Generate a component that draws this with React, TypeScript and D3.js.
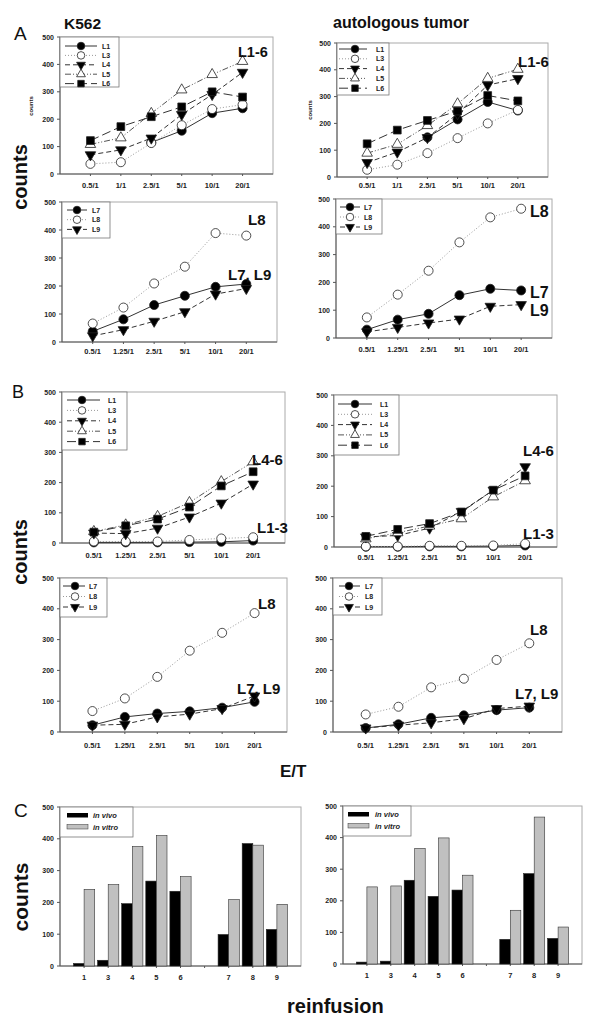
import React from "react";
import * as d3 from "d3";

// ---------- DATA ----------
const etLabelsA = ["0.5/1", "1/1", "2.5/1", "5/1", "10/1", "20/1"];
const etLabels = ["0.5/1", "1.25/1", "2.5/1", "5/1", "10/1", "20/1"];
const yTicks = [0, 100, 200, 300, 400, 500];

// A, K562, L1-6
const aK_L1 = [null, null, 115, 158, 222, 240];
const aK_L3 = [37, 43, 113, 178, 237, 253];
const aK_L4 = [70, 88, 131, 217, 290, 371];
const aK_L5 = [108, 132, 221, 307, 363, 411];
const aK_L6 = [122, 173, 209, 245, 300, 281];
// A, autologous, L1-6
const aT_L1 = [null, null, 148, 215, 280, 248];
const aT_L3 = [27, 46, 89, 145, 200, 250];
const aT_L4 = [54, 93, 147, 236, 343, 367];
const aT_L5 = [89, 122, 192, 273, 368, 402];
const aT_L6 = [124, 175, 211, 246, 304, 284];
// A, K562, L7-9
const aK_L7 = [38, 81, 132, 165, 197, 207];
const aK_L8 = [66, 123, 209, 269, 389, 380];
const aK_L9 = [22, 44, 74, 108, 171, 191];
// A, autologous, L7-9
const aT_L7 = [30, 66, 87, 154, 177, 171];
const aT_L8 = [74, 156, 242, 344, 434, 465];
const aT_L9 = [22, 38, 54, 68, 114, 120];
// B, K562, L1-6
const bK_L1 = [2, 2, 2, 3, 4, 8];
const bK_L3 = [5, 5, 5, 10, 15, 19];
const bK_L4 = [33, 31, 49, 86, 132, 195];
const bK_L5 = [38, 60, 88, 134, 203, 269];
const bK_L6 = [36, 57, 79, 119, 189, 236];
// B, autologous, L1-6
const bT_L1 = [1, 1, 2, 2, 3, 5];
const bT_L3 = [2, 2, 4, 4, 5, 11];
const bT_L4 = [33, 38, 62, 117, 187, 264];
const bT_L5 = [27, 47, 69, 93, 165, 218];
const bT_L6 = [35, 58, 77, 115, 187, 234];
// B, K562, L7-9
const bK_L7 = [22, 49, 60, 67, 79, 98];
const bK_L8 = [68, 109, 179, 264, 322, 386];
const bK_L9 = [22, 25, 49, 58, 76, 117];
// B, autologous, L7-9
const bT_L7 = [13, 25, 46, 54, 71, 79];
const bT_L8 = [57, 82, 145, 173, 234, 288];
const bT_L9 = [13, 22, 30, 43, 76, 84];

// C
const reinfusions = ["1", "3", "4", "5", "6", "", "7", "8", "9"];
const cK_inVivo = [8, 18, 196, 267, 235, null, 99, 385, 115];
const cK_inVitro = [241, 256, 376, 410, 281, null, 209, 380, 194];
const cT_inVivo = [6, 9, 265, 214, 234, null, 78, 286, 81];
const cT_inVitro = [244, 247, 366, 399, 281, null, 170, 465, 117];

// ---------- STYLES ----------
const FONT = "'Liberation Sans', Arial, Helvetica, sans-serif";
type Style = { marker: string; fill: string; dash: string; stroke: string };
const STYLES: Record<string, Style> = {
  L1: { marker: "circle", fill: "#000", dash: "", stroke: "#333" },
  L3: { marker: "circle", fill: "#fff", dash: "1,2", stroke: "#999" },
  L4: { marker: "tdown", fill: "#000", dash: "5,3", stroke: "#333" },
  L5: { marker: "tup", fill: "#fff", dash: "6,2,1,2,1,2", stroke: "#555" },
  L6: { marker: "square", fill: "#000", dash: "9,4", stroke: "#333" },
  L7: { marker: "circle", fill: "#000", dash: "", stroke: "#333" },
  L8: { marker: "circle", fill: "#fff", dash: "1,2", stroke: "#999" },
  L9: { marker: "tdown", fill: "#000", dash: "5,3", stroke: "#333" },
};

function markerPath(kind: string, scale: number) {
  if (kind === "circle") return d3.symbol(d3.symbolCircle, 64 * scale)()!;
  if (kind === "square") return d3.symbol(d3.symbolSquare, 60 * scale)()!;
  return d3.symbol(d3.symbolTriangle, 48 * scale)()!;
}

function Marker({ kind, fill, x, y, scale = 1 }: any) {
  const rot = kind === "tdown" ? " rotate(180)" : "";
  return (
    <path
      d={markerPath(kind, scale)}
      transform={`translate(${x},${y})${rot}`}
      fill={fill}
      stroke="#222"
      strokeWidth={0.8}
    />
  );
}

type Series = { name: string; values: (number | null)[] };
type Leg = { w: number; h: number; r0: number; dy: number; l0: number; l1: number; m: number; t: number };
type Ann = { text: string; x: number; y: number; size: number };

function LinePanel({ x0, x1, y0, y1, labelY, cats, series, leg, ann }: {
  x0: number; x1: number; y0: number; y1: number; labelY: number; cats: string[];
  series: Series[]; leg: Leg; ann: Ann[];
}) {
  const x = d3.scalePoint<string>().domain(cats).range([x0, x1]).padding(1);
  const y = d3.scaleLinear().domain([0, 500]).range([y1, y0]);
  return (
    <g>
      <rect x={x0} y={y0} width={x1 - x0} height={y1 - y0} fill="none" stroke="#aaa" strokeWidth={1} />
      <line x1={x0} x2={x0} y1={y0} y2={y1} stroke="#555" />
      <line x1={x0} x2={x1} y1={y1} y2={y1} stroke="#555" />
      {yTicks.map((t) => (
        <g key={t}>
          <line x1={x0 - 3} x2={x0} y1={y(t)} y2={y(t)} stroke="#555" />
          <text x={x0 - 6} y={y(t) + 2.5} fontSize={7} fontWeight="bold" textAnchor="end" fill="#222" fontFamily={FONT}>{t}</text>
        </g>
      ))}
      {cats.map((c) => (
        <g key={c}>
          <line x1={x(c)!} x2={x(c)!} y1={y1} y2={y1 + 2} stroke="#555" />
          <text x={x(c)!} y={labelY} fontSize={7.5} fontWeight="bold" textAnchor="middle" fill="#222" fontFamily={FONT}>{c}</text>
        </g>
      ))}
      {series.map((s) => {
        const st = STYLES[s.name];
        const line = d3.line<number | null>()
          .defined((v) => v !== null)
          .x((_, i) => x(cats[i])!)
          .y((v) => y(v as number));
        return (
          <path key={s.name + "l"} d={line(s.values)!} fill="none" stroke={st.stroke} strokeWidth={1} strokeDasharray={st.dash} />
        );
      })}
      {series.map((s) => {
        const st = STYLES[s.name];
        return (
          <g key={s.name + "m"}>
            {s.values.map((v, i) => v === null ? null : (
              <Marker key={i} kind={st.marker} fill={st.fill} x={x(cats[i])!} y={y(v)} />
            ))}
          </g>
        );
      })}
      <rect x={x0} y={y0} width={leg.w} height={leg.h} fill="#fff" stroke="#777" strokeWidth={0.8} />
      {series.map((s, i) => {
        const st = STYLES[s.name];
        const ry = y0 + leg.r0 + i * leg.dy;
        return (
          <g key={s.name + "g"}>
            <line x1={x0 + leg.l0} x2={x0 + leg.l1} y1={ry} y2={ry} stroke={st.stroke} strokeWidth={1} strokeDasharray={st.dash} />
            <Marker kind={st.marker} fill={st.fill} x={x0 + leg.m} y={ry} scale={0.7} />
            <text x={x0 + leg.t} y={ry + 2.5} fontSize={7} fontWeight="bold" fill="#222" fontFamily={FONT}>{s.name}</text>
          </g>
        );
      })}
      {ann.map((a) => (
        <text key={a.text + a.y} x={a.x} y={a.y} fontSize={a.size} fontWeight="bold" fill="#111" fontFamily={FONT}>{a.text}</text>
      ))}
    </g>
  );
}

function BarPanel({ x0, x1, y0, y1, labelY, vivo, vitro, legX }: any) {
  const x = d3.scalePoint<string>().domain(reinfusions.map((r, i) => r + "#" + i)).range([x0, x1]).padding(1);
  const y = d3.scaleLinear().domain([0, 500]).range([y1, y0]);
  const bw = x.step() * 0.44;
  const keys = reinfusions.map((r, i) => r + "#" + i);
  return (
    <g>
      <rect x={x0} y={y0} width={x1 - x0} height={y1 - y0} fill="none" stroke="#aaa" />
      <line x1={x0} x2={x0} y1={y0} y2={y1} stroke="#555" />
      <line x1={x0} x2={x1} y1={y1} y2={y1} stroke="#555" />
      {yTicks.map((t) => (
        <g key={t}>
          <line x1={x0 - 3} x2={x0} y1={y(t)} y2={y(t)} stroke="#555" />
          <text x={x0 - 6} y={y(t) + 2.5} fontSize={7} fontWeight="bold" textAnchor="end" fill="#222" fontFamily={FONT}>{t}</text>
        </g>
      ))}
      {keys.map((k, i) => (
        <g key={k}>
          <line x1={x(k)!} x2={x(k)!} y1={y1} y2={y1 + 2} stroke="#555" />
          <text x={x(k)!} y={labelY} fontSize={7.5} fontWeight="bold" textAnchor="middle" fill="#222" fontFamily={FONT}>{reinfusions[i]}</text>
        </g>
      ))}
      {keys.map((k, i) => vivo[i] === null ? null : (
        <g key={k + "b"}>
          <rect x={x(k)! - bw} y={y(vivo[i])} width={bw} height={y1 - y(vivo[i])} fill="#000" stroke="#222" strokeWidth={0.6} />
          <rect x={x(k)!} y={y(vitro[i])} width={bw} height={y1 - y(vitro[i])} fill="#c0c0c0" stroke="#333" strokeWidth={0.6} />
        </g>
      ))}
      <rect x={x0} y={y0} width={legX.w} height={30} fill="#fff" stroke="#777" strokeWidth={0.8} />
      <rect x={x0 + legX.s} y={y0 + 6} width={21} height={4.5} fill="#000" />
      <rect x={x0 + legX.s} y={y0 + 17.5} width={21} height={4.5} fill="#c0c0c0" stroke="#333" strokeWidth={0.5} />
      <text x={x0 + legX.t} y={y0 + 11} fontSize={7.5} fontWeight="bold" fontStyle="italic" fill="#222" fontFamily={FONT}>in vivo</text>
      <text x={x0 + legX.t} y={y0 + 22.5} fontSize={7.5} fontWeight="bold" fontStyle="italic" fill="#222" fontFamily={FONT}>in vitro</text>
    </g>
  );
}

const s16 = (a: any[], b: any[], c: any[], d: any[], e: any[]): Series[] => [
  { name: "L1", values: a }, { name: "L3", values: b }, { name: "L4", values: c },
  { name: "L5", values: d }, { name: "L6", values: e },
];
const s79 = (a: any[], b: any[], c: any[]): Series[] => [
  { name: "L7", values: a }, { name: "L8", values: b }, { name: "L9", values: c },
];

export default function App() {
  return (
    <svg width={600} height={1023} style={{ position: "absolute", left: 0, top: 0, background: "#fff" }} fontFamily={FONT}>
      <rect width={600} height={1023} fill="#fff" />
      {/* headers */}
      <text x={14} y={40} fontSize={19} fill="#111">A</text>
      <text x={12} y={398} fontSize={18} fill="#111">B</text>
      <text x={14} y={817} fontSize={19} fill="#111">C</text>
      <text x={64} y={29} fontSize={15.5} fontWeight="bold" fill="#111">K562</text>
      <text x={333} y={28} fontSize={16} fontWeight="bold" fill="#111">autologous tumor</text>
      <text transform="translate(27,177) rotate(-90)" fontSize={20} fontWeight="bold" textAnchor="middle" fill="#111">counts</text>
      <text transform="translate(27,552) rotate(-90)" fontSize={20} fontWeight="bold" textAnchor="middle" fill="#111">counts</text>
      <text transform="translate(28,897) rotate(-90)" fontSize={21} fontWeight="bold" textAnchor="middle" fill="#111">counts</text>
      <text transform="translate(33,106) rotate(-90)" fontSize={6} fontWeight="bold" textAnchor="middle" fill="#222">counts</text>
      <text transform="translate(312,110) rotate(-90)" fontSize={6} fontWeight="bold" textAnchor="middle" fill="#222">counts</text>
      <text x={280} y={777} fontSize={17} fontWeight="bold" fill="#111">E/T</text>
      <text x={287} y={1013} fontSize={20} fontWeight="bold" fill="#111">reinfusion</text>

      <LinePanel x0={60} x1={273} y0={37} y1={174} labelY={188} cats={etLabelsA}
        series={s16(aK_L1, aK_L3, aK_L4, aK_L5, aK_L6)}
        leg={{ w: 59, h: 50, r0: 9, dy: 9.4, l0: 5, l1: 37, m: 21, t: 42 }}
        ann={[{ text: "L1-6", x: 238, y: 57, size: 14.5 }]} />
      <LinePanel x0={337} x1={548} y0={43} y1={177} labelY={188} cats={etLabelsA}
        series={s16(aT_L1, aT_L3, aT_L4, aT_L5, aT_L6)}
        leg={{ w: 52, h: 52, r0: 6, dy: 9.8, l0: 2, l1: 30, m: 18, t: 39 }}
        ann={[{ text: "L1-6", x: 518, y: 67, size: 15 }]} />
      <LinePanel x0={62} x1={277} y0={202} y1={342} labelY={354} cats={etLabels}
        series={s79(aK_L7, aK_L8, aK_L9)}
        leg={{ w: 48, h: 36, r0: 8, dy: 9.7, l0: 5, l1: 25, m: 15, t: 30 }}
        ann={[{ text: "L8", x: 248, y: 225, size: 15 }, { text: "L7, L9", x: 228, y: 280, size: 15 }]} />
      <LinePanel x0={336} x1={552} y0={199} y1={338} labelY={352} cats={etLabels}
        series={s79(aT_L7, aT_L8, aT_L9)}
        leg={{ w: 46, h: 35, r0: 8, dy: 10, l0: 4, l1: 24, m: 14, t: 28 }}
        ann={[{ text: "L8", x: 530, y: 217, size: 16 }, { text: "L7", x: 530, y: 298, size: 16 }, { text: "L9", x: 530, y: 316, size: 16 }]} />
      <LinePanel x0={62} x1={285} y0={392} y1={543} labelY={558} cats={etLabels}
        series={s16(bK_L1, bK_L3, bK_L4, bK_L5, bK_L6)}
        leg={{ w: 65, h: 58, r0: 8, dy: 10.4, l0: 5, l1: 38, m: 20, t: 46 }}
        ann={[{ text: "L4-6", x: 252, y: 465, size: 15 }, { text: "L1-3", x: 257, y: 533, size: 15 }]} />
      <LinePanel x0={334} x1={557} y0={395} y1={547} labelY={560} cats={etLabels}
        series={s16(bT_L1, bT_L3, bT_L4, bT_L5, bT_L6)}
        leg={{ w: 65, h: 60, r0: 9, dy: 10.3, l0: 4, l1: 38, m: 21, t: 46 }}
        ann={[{ text: "L4-6", x: 523, y: 456, size: 15 }, { text: "L1-3", x: 523, y: 539, size: 15 }]} />
      <LinePanel x0={60} x1={287} y0={578} y1={732} labelY={748} cats={etLabels}
        series={s79(bK_L7, bK_L8, bK_L9)}
        leg={{ w: 47, h: 39, r0: 8, dy: 10.5, l0: 3, l1: 25, m: 15, t: 29 }}
        ann={[{ text: "L8", x: 258, y: 609, size: 15 }, { text: "L7, L9", x: 237, y: 694, size: 15 }]} />
      <LinePanel x0={333} x1={562} y0={578} y1={732} labelY={748} cats={etLabels}
        series={s79(bT_L7, bT_L8, bT_L9)}
        leg={{ w: 49, h: 37, r0: 8, dy: 10.5, l0: 6, l1: 27, m: 16, t: 32 }}
        ann={[{ text: "L8", x: 530, y: 635, size: 15 }, { text: "L7, L9", x: 515, y: 699, size: 15 }]} />

      <BarPanel x0={60} x1={301} y0={807} y1={966} labelY={980} vivo={cK_inVivo} vitro={cK_inVitro} legX={{ w: 73, s: 7, t: 33 }} />
      <BarPanel x0={343} x1={582} y0={806} y1={964} labelY={978} vivo={cT_inVivo} vitro={cT_inVitro} legX={{ w: 68, s: 5, t: 32 }} />
    </svg>
  );
}
